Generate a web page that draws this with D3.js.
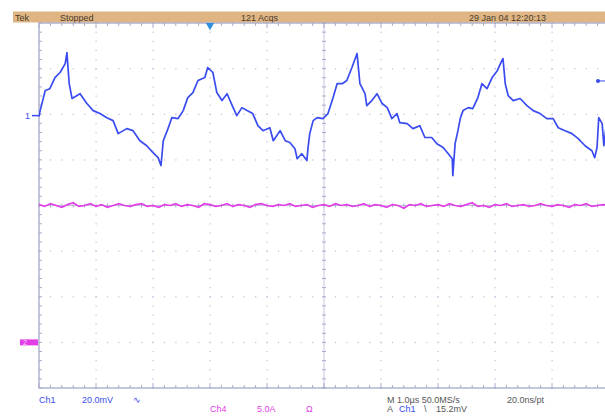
<!DOCTYPE html>
<html>
<head>
<meta charset="utf-8">
<script src="https://cdn.jsdelivr.net/npm/d3@7"></script>
<style>
  body { margin: 0; background: #fff; }
  svg { display: block; }
  text { font-family: "Liberation Sans", Arial, sans-serif; font-size: 9px; }
</style>
</head>
<body>
<svg></svg>
<script>
// Channel 1 (20.0 mV/div): time in µs, value in mV
var ch1Time = [0.00, 0.02, 0.11, 0.19, 0.28, 0.37, 0.46, 0.49, 0.53, 0.58, 0.72, 0.84, 0.95, 1.07, 1.19, 1.30,
    1.39, 1.54, 1.65, 1.77, 1.89, 2.00, 2.09, 2.14, 2.18, 2.25, 2.33, 2.44, 2.53, 2.61, 2.70, 2.79,
    2.91, 2.96, 3.05, 3.12, 3.21, 3.30, 3.39, 3.47, 3.56, 3.65, 3.75, 3.84, 3.93, 4.05, 4.11, 4.23,
    4.32, 4.40, 4.49, 4.53, 4.61, 4.70, 4.72, 4.75, 4.81, 4.88, 4.98, 5.07, 5.16, 5.23, 5.32, 5.40,
    5.49, 5.58, 5.63, 5.72, 5.75, 5.84, 5.93, 6.02, 6.11, 6.19, 6.28, 6.33, 6.46, 6.56, 6.68, 6.77,
    6.89, 6.98, 7.09, 7.18, 7.25, 7.26, 7.30, 7.35, 7.39, 7.44, 7.53, 7.61, 7.70, 7.77, 7.86, 7.95,
    8.04, 8.12, 8.14, 8.18, 8.23, 8.32, 8.44, 8.56, 8.67, 8.79, 8.91, 9.02, 9.11, 9.23, 9.35, 9.46,
    9.58, 9.70, 9.75, 9.79, 9.82, 9.88, 9.91, 9.95];
var ch1Volt = [-0.4, 2.2, 11.0, 11.8, 16.7, 18.9, 22.8, 27.6, 14.0, 7.5, 9.6, 5.3, 2.2, 0.9, -0.9, -2.2,
    -7.9, -5.7, -6.6, -11.0, -13.2, -16.2, -18.4, -21.9, -11.0, -6.6, -0.9, -1.3, 2.2, 7.9, 10.1, 15.4,
    16.7, 21.1, 18.9, 10.1, 6.6, 9.6, 4.4, 0.0, 3.5, 2.2, 0.9, -4.4, -6.6, -5.3, -11.0, -6.6,
    -11.0, -11.8, -14.5, -18.9, -16.7, -19.7, -14.0, -7.9, -2.2, -0.9, -1.3, 0.9, 7.9, 14.0, 14.0, 15.4,
    21.1, 27.2, 14.0, 9.6, 4.4, 6.6, 9.6, 5.3, 3.5, -1.3, 0.9, -3.1, -3.5, -5.7, -4.4, -9.6,
    -9.6, -12.3, -14.0, -16.7, -18.9, -26.3, -12.3, -6.6, -1.3, 2.2, 3.5, 3.1, 7.9, 14.0, 11.8, 16.7,
    19.7, 24.1, 25.0, 14.0, 8.8, 6.6, 7.5, 4.4, 2.2, 0.9, -1.3, -1.3, -5.3, -6.6, -7.9, -10.1,
    -13.2, -15.4, -18.4, -14.0, -0.9, -3.5, -13.2, -4.4];

// Channel 4 (5.0 A/div): one sample every 0.1 µs, in A
var ch4Amps = [15.1, 14.9, 15.2, 15.0, 14.8, 15.1, 15.3, 14.9, 15.0, 15.2, 14.9, 15.1, 14.8, 15.0, 15.2, 15.0,
    14.9, 15.1, 15.2, 14.9, 15.0, 14.8, 15.1, 15.0, 15.2, 14.9, 15.1, 15.0, 14.8, 15.2, 15.1, 14.9,
    15.0, 15.2, 14.9, 15.1, 15.0, 14.8, 15.1, 15.2, 15.0, 14.9, 15.1, 15.0, 15.2, 14.9, 15.0, 15.1,
    14.8, 15.0, 15.1, 14.9, 15.2, 15.0, 15.1, 14.9, 15.0, 15.2, 14.9, 15.1, 15.0, 14.8, 15.1, 15.0,
    14.7, 15.1, 15.0, 15.2, 14.9, 15.0, 15.1, 14.9, 15.2, 15.0, 14.9, 15.1, 15.3, 14.9, 15.0, 14.8,
    15.1, 15.0, 15.2, 14.9, 15.0, 15.1, 14.9, 15.0, 15.2, 15.0, 14.9, 15.1, 15.0, 14.8, 15.1, 15.0,
    15.2, 14.9, 15.0, 15.1, 15.0];

var headerLabels = ["Tek", "Stopped", "121 Acqs", "29 Jan 04 12:20:13"];
var timeDivs = 10, voltDivs = 8;
var ch1Scale = 20.0, ch1Pos = 1.97;   // mV/div, divisions above centre
var ch4Scale = 5.0, ch4Pos = -3;      // A/div
var trigTime = 3.0, trigLevel = 15.2; // µs, mV

var width = 605, height = 419;
var blue = "#3a4cf0", pink = "#e23ee6", gridCol = "#b9bcd9";

var svg = d3.select("svg").attr("width", width).attr("height", height);

var x = d3.scaleLinear().domain([0, timeDivs]).range([39, 609]);
var yDiv = d3.scaleLinear().domain([voltDivs / 2, -voltDivs / 2]).range([23, 388]);
var y1 = function(v) { return yDiv(ch1Pos + v / ch1Scale); };
var y4 = function(a) { return yDiv(ch4Pos + a / ch4Scale); };

//==========================================================================
// Header bar
svg.append("rect").attr("x", 13).attr("y", 11.5).attr("width", width - 13).attr("height", 11)
    .attr("fill", "#dfb584");
var headerX = [15, 60, 241, 469];
svg.selectAll(".hdr").data(headerLabels).enter().append("text")
    .attr("x", function(d, i) { return headerX[i]; })
    .attr("y", 20.5)
    .attr("fill", "#4a3b2c")
    .text(function(d) { return d; });

//==========================================================================
// Graticule
var grid = svg.append("g");
var minorX = d3.range(0, timeDivs * 5 + 1).map(function(i) { return i / 5; });
var minorY = d3.range(-voltDivs / 2 * 5, voltDivs / 2 * 5 + 1).map(function(i) { return i / 5; });

// dotted division lines
d3.range(1, timeDivs).forEach(function(i) {
    if (i === timeDivs / 2) return;
    grid.selectAll(null).data(minorY).enter().append("rect")
        .attr("x", x(i) - 0.5).attr("y", function(d) { return yDiv(d) - 0.5; })
        .attr("width", 1.2).attr("height", 1.2).attr("fill", gridCol);
});
d3.range(-voltDivs / 2 + 1, voltDivs / 2).forEach(function(j) {
    if (j === 0) return;
    grid.selectAll(null).data(minorX).enter().append("rect")
        .attr("x", function(d) { return x(d) - 0.5; }).attr("y", yDiv(j) - 0.5)
        .attr("width", 1.2).attr("height", 1.2).attr("fill", gridCol);
});

// centre lines with ticks
grid.append("line").attr("x1", x(5)).attr("x2", x(5)).attr("y1", yDiv(4)).attr("y2", yDiv(-4))
    .attr("stroke", "#c4c6de").attr("stroke-width", 1);
grid.selectAll(null).data(minorY).enter().append("line")
    .attr("x1", x(5) - 2).attr("x2", x(5) + 2)
    .attr("y1", function(d) { return yDiv(d); }).attr("y2", function(d) { return yDiv(d); })
    .attr("stroke", "#a8abcc");
grid.append("line").attr("x1", x(0)).attr("x2", x(10)).attr("y1", yDiv(0)).attr("y2", yDiv(0))
    .attr("stroke", "#c4c6de");
grid.selectAll(null).data(minorX).enter().append("line")
    .attr("x1", function(d) { return x(d); }).attr("x2", function(d) { return x(d); })
    .attr("y1", yDiv(0) - 2).attr("y2", yDiv(0) + 2)
    .attr("stroke", "#a8abcc");

// border with ticks
grid.append("rect").attr("x", x(0)).attr("y", yDiv(4)).attr("width", x(10) - x(0)).attr("height", yDiv(-4) - yDiv(4))
    .attr("fill", "none").attr("stroke", "#9da0c2").attr("stroke-width", 1.2);
[[yDiv(4), 1], [yDiv(-4), -1]].forEach(function(b) {
    grid.selectAll(null).data(minorX).enter().append("line")
        .attr("x1", function(d) { return x(d); }).attr("x2", function(d) { return x(d); })
        .attr("y1", b[0]).attr("y2", function(d) { return b[0] + b[1] * (Math.abs(d - Math.round(d)) < 0.01 ? 5 : 3); })
        .attr("stroke", "#a8abcc");
});
grid.selectAll(null).data(minorY).enter().append("line")
    .attr("x1", x(0)).attr("x2", x(0) + 3)
    .attr("y1", function(d) { return yDiv(d); }).attr("y2", function(d) { return yDiv(d); })
    .attr("stroke", "#a8abcc");

//==========================================================================
// Traces
var clip = svg.append("clipPath").attr("id", "scr").append("rect")
    .attr("x", x(0)).attr("y", yDiv(4)).attr("width", x(10) - x(0)).attr("height", yDiv(-4) - yDiv(4));

var ch4Line = d3.line()
    .x(function(d, i) { return x(i * 0.1); })
    .y(function(d) { return y4(d); })
    .curve(d3.curveLinear);
svg.append("path").datum(ch4Amps).attr("clip-path", "url(#scr)")
    .attr("d", ch4Line).attr("fill", "none").attr("stroke", pink).attr("stroke-width", 1.7);

var ch1Line = d3.line()
    .x(function(d) { return x(d); })
    .y(function(d, i) { return y1(ch1Volt[i]); });
svg.append("path").datum(ch1Time).attr("clip-path", "url(#scr)")
    .attr("d", ch1Line).attr("fill", "none").attr("stroke", blue).attr("stroke-width", 1.7)
    .attr("stroke-linejoin", "round");

//==========================================================================
// Markers
svg.append("text").attr("x", 25).attr("y", y1(0) + 3).attr("fill", blue).text("1");
svg.append("line").attr("x1", 32).attr("x2", x(0)).attr("y1", y1(0)).attr("y2", y1(0))
    .attr("stroke", blue).attr("stroke-width", 1.5);

svg.append("rect").attr("x", 20).attr("y", y4(0) - 3).attr("width", 18).attr("height", 6).attr("fill", pink);
svg.append("text").attr("x", 23).attr("y", y4(0) + 2.5).attr("fill", "#fbd4fb")
    .style("font-size", "7px").text("2");

svg.append("path")
    .attr("d", d3.symbol().type(d3.symbolTriangle).size(30))
    .attr("transform", "translate(" + x(trigTime) + "," + (yDiv(4) + 2.5) + ") rotate(180)")
    .attr("fill", "#2f8fe0");

svg.append("circle").attr("cx", 598).attr("cy", y1(trigLevel)).attr("r", 2).attr("fill", blue);
svg.append("line").attr("x1", 598).attr("x2", width).attr("y1", y1(trigLevel)).attr("y2", y1(trigLevel))
    .attr("stroke", blue).attr("stroke-width", 1);

//==========================================================================
// Readouts
var readouts = [
    {x: 39, y: 403, t: "Ch1", c: blue},
    {x: 82, y: 403, t: ch1Scale.toFixed(1) + "mV", c: blue},
    {x: 133, y: 403, t: "∿", c: blue},
    {x: 210, y: 412, t: "Ch4", c: pink},
    {x: 257, y: 412, t: ch4Scale.toFixed(1) + "A", c: pink},
    {x: 306, y: 412, t: "Ω", c: pink},
    {x: 387, y: 403, t: "M 1.0µs 50.0MS/s", c: "#555"},
    {x: 507, y: 403, t: "20.0ns/pt", c: "#555"},
    {x: 387, y: 412, t: "A", c: "#555"},
    {x: 399, y: 412, t: "Ch1", c: blue},
    {x: 424, y: 412, t: "\\", c: "#555"},
    {x: 436, y: 412, t: trigLevel.toFixed(1) + "mV", c: "#555"}
];
svg.selectAll(".ro").data(readouts).enter().append("text")
    .attr("x", function(d) { return d.x; })
    .attr("y", function(d) { return d.y; })
    .attr("fill", function(d) { return d.c; })
    .text(function(d) { return d.t; });
</script>
</body>
</html>
